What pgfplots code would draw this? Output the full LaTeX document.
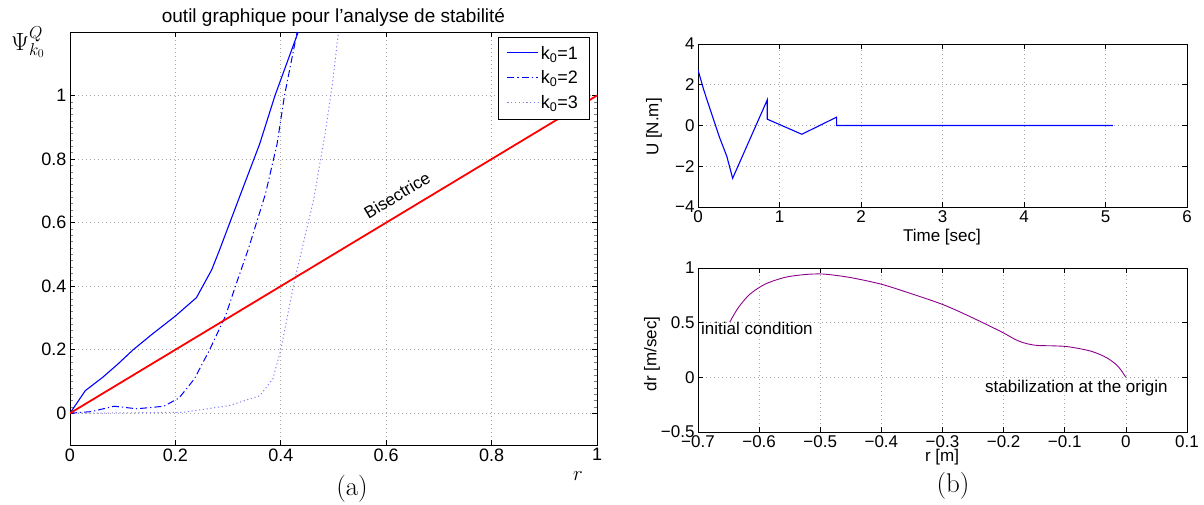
\documentclass[border=0pt]{standalone}
\usepackage{fontspec}
\newfontfamily\hv{Liberation Sans}
\usepackage{pgfplots}
\pgfplotsset{compat=1.18}
\definecolor{mpurple}{rgb}{0.55,0,0.55}
\definecolor{mblue}{rgb}{0,0,1}
\definecolor{lblue}{rgb}{0.5,0.5,1}
\pgfplotsset{
  mstyle/.style={
    scale only axis,
    axis line style={black, line width=0.9pt},
    grid=major,
    major grid style={dash pattern=on 1pt off 3pt, gray!70, line width=0.7pt},
    tick align=inside,
    major tick style={black, line width=0.7pt},
    major tick length=5pt,
    tick label style={font=\hv\fontsize{17}{17}\selectfont},
    /pgf/number format/assume math mode=true,
  }
}
\begin{document}
\begin{tikzpicture}[x=1pt,y=1pt]
\useasboundingbox (0,0) rectangle (1204,504);

% ---------------- left panel ----------------
\begin{axis}[mstyle, name=A,
  at={(70pt,59pt)}, anchor=south west, width=527pt, height=413pt,
  xmin=0, xmax=1, ymin=-0.1, ymax=1.2,
  tick label style={font=\hv\fontsize{18}{18}\selectfont},
  xtick={0,0.2,0.4,0.6,0.8,1}, xticklabels={0,0.2,0.4,0.6,0.8,1},
  ytick={0,0.2,0.4,0.6,0.8,1}, yticklabels={0,0.2,0.4,0.6,0.8,1},
  minor y tick num=9, minor tick length=3pt,
  minor tick style={gray, line width=0.5pt},
  legend style={at={(0.985,0.988)}, anchor=north east,
    font=\hv\fontsize{18}{18}\selectfont, row sep=6pt,
    inner xsep=9pt, inner ysep=7pt},
  legend cell align=left,
  legend image code/.code={\draw[#1] (0pt,0.5pt) -- (31pt,0.5pt);},
]
\addplot[draw=mblue, line width=1.1pt] coordinates {
(0,0) (0.029,0.071) (0.062,0.113) (0.091,0.155) (0.12,0.2) (0.156,0.249)
(0.2,0.306) (0.24,0.364) (0.269,0.452) (0.284,0.515) (0.324,0.691)
(0.36,0.848) (0.389,1.0) (0.433,1.2)};
\addlegendentry{k\textsubscript{0}=1}
\addplot[draw=mblue, line width=1pt, dash pattern=on 7pt off 3pt on 1.2pt off 3pt] coordinates {
(0,0) (0.04,0.005) (0.084,0.022) (0.127,0.014) (0.178,0.022) (0.207,0.048)
(0.236,0.108) (0.265,0.2) (0.295,0.306) (0.316,0.41) (0.338,0.515)
(0.371,0.691) (0.393,0.848) (0.407,1.0) (0.431,1.2)};
\addlegendentry{k\textsubscript{0}=2}
\addplot[draw=lblue, line width=1pt, dash pattern=on 1.2pt off 2.6pt] coordinates {
(0,0) (0.1,0.001) (0.215,0.003) (0.302,0.024) (0.36,0.055) (0.385,0.108)
(0.4,0.2) (0.425,0.41) (0.44,0.515) (0.462,0.67) (0.484,0.88)
(0.498,1.037) (0.509,1.195)};
\addlegendentry{k\textsubscript{0}=3}
\addplot[draw=red, line width=1.8pt, forget plot] coordinates {(0,0) (1,1)};
\end{axis}

\node[rotate=31, font=\hv\fontsize{17}{17}\selectfont] at (397,309) {Bisectrice};
\node[font=\hv\fontsize{19}{19}\selectfont, anchor=base] at (333.5,481) {outil graphique pour l’analyse de stabilité};
\node[font=\fontsize{24}{24}\selectfont] at (28,462) {$\Psi^{Q}_{k_0}$};
\node[font=\fontsize{21}{21}\selectfont] at (578,28) {$r$};
\node[font=\fontsize{27}{27}\selectfont] at (352,15) {(a)};

% ---------------- right top ----------------
\begin{axis}[mstyle, name=B,
  at={(698pt,297pt)}, anchor=south west, width=489pt, height=163pt,
  xmin=0, xmax=6, ymin=-4, ymax=4,
  xtick={0,1,2,3,4,5,6}, xticklabels={0,1,2,3,4,5,6},
  ytick={-4,-2,0,2,4}, yticklabels={−4,−2,0,2,4},
]
\addplot[draw=mblue, line width=1.1pt] coordinates {
(0,2.73) (0.07,1.75) (0.165,0.6) (0.26,-0.54) (0.354,-1.52) (0.425,-2.59)
(0.85,1.26) (0.85,0.31) (1.274,-0.43) (1.7,0.41) (1.7,0) (5.09,0)};
\end{axis}
\node[font=\hv\fontsize{17}{17}\selectfont] at (942,267) {Time [sec]};
\node[font=\hv\fontsize{17}{17}\selectfont, rotate=90] at (654,377) {U [N.m]};

% ---------------- right bottom ----------------
\begin{axis}[mstyle, name=C,
  at={(698pt,72pt)}, anchor=south west, width=489pt, height=164pt,
  xmin=-0.7, xmax=0.1, ymin=-0.5, ymax=1,
  xtick={-0.7,-0.6,-0.5,-0.4,-0.3,-0.2,-0.1,0,0.1},
  xticklabels={−0.7,−0.6,−0.5,−0.4,−0.3,−0.2,−0.1,0,0.1},
  ytick={-0.5,0,0.5,1}, yticklabels={−0.5,0,0.5,1},
]
\addplot[draw=mpurple, line width=0.9pt, smooth, tension=0.5] coordinates {
(-0.648,0.506) (-0.634,0.638) (-0.615,0.761) (-0.59,0.853) (-0.558,0.914)
(-0.527,0.939) (-0.496,0.945) (-0.452,0.914) (-0.401,0.853) (-0.357,0.776)
(-0.301,0.669) (-0.257,0.561) (-0.206,0.423) (-0.175,0.331) (-0.149,0.294)
(-0.118,0.288) (-0.093,0.279) (-0.057,0.239) (-0.031,0.178) (-0.013,0.101) (0,0)};
\end{axis}
\node[font=\hv\fontsize{17}{17}\selectfont, anchor=west, inner sep=0pt] at (701,176) {initial condition};
\node[font=\hv\fontsize{17}{17}\selectfont, anchor=west, inner sep=0pt] at (985,116) {stabilization at the origin};
\node[font=\hv\fontsize{17}{17}\selectfont] at (942,47) {r [m]};
\node[font=\hv\fontsize{17}{17}\selectfont, rotate=90] at (652,150) {dr [m/sec]};
\node[font=\fontsize{27}{27}\selectfont] at (953,18) {(b)};
\end{tikzpicture}
\end{document}
